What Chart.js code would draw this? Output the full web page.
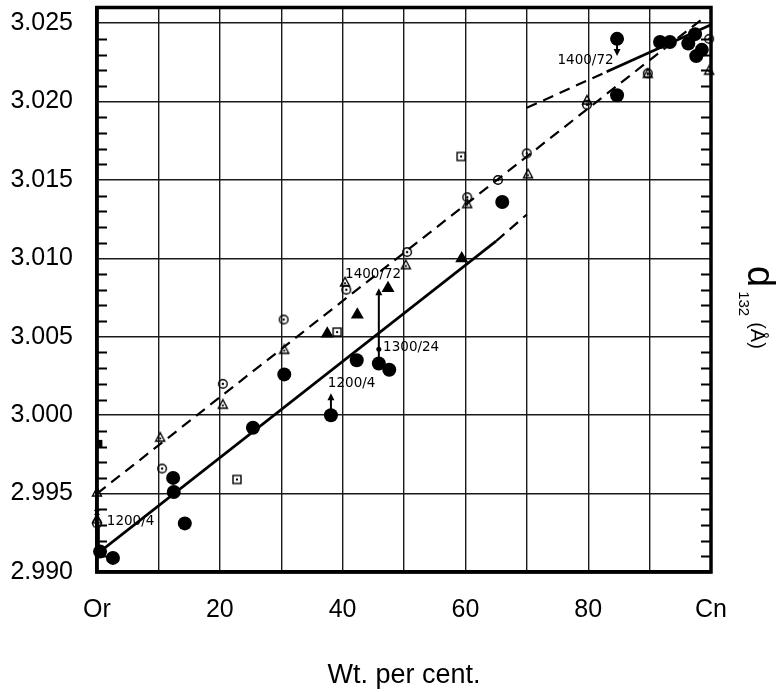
<!DOCTYPE html>
<html>
<head>
<meta charset="utf-8">
<script src="https://cdn.jsdelivr.net/npm/chart.js@4.4.0/dist/chart.umd.min.js"></script>
<style>
  html, body { margin: 0; padding: 0; background: #fff; }
  #wrap { width: 778px; height: 692px; }
</style>
</head>
<body>
<div id="wrap"><canvas id="chart" width="778" height="692"></canvas></div>
<script>
// x = Wt. per cent. Cn (Or = 0, Cn = 100), y = d132 in Å
const xTickLabels = ['Or', '', '20', '', '40', '', '60', '', '80', '', 'Cn'];

// filled circles
const filledX = [0.5, 2.6, 12.4, 12.5, 14.3, 25.4, 30.5, 38.1, 42.3, 45.9, 47.6, 66.0, 84.7, 84.7, 91.7, 93.3, 96.3, 97.4, 97.6, 98.5];
const filledY = [2.9913, 2.9909, 2.9960, 2.9951, 2.9931, 2.9992, 3.0026, 3.0000, 3.0035, 3.0033, 3.0029, 3.0136, 3.0204, 3.0240, 3.0238, 3.0238, 3.0237, 3.0243, 3.0229, 3.0233];

// open circles with centre dot
const circX = [0, 10.6, 20.5, 30.4, 40.6, 50.5, 60.3, 65.3, 70.0, 79.8, 89.7, 99.7];
const circY = [2.9931, 2.9966, 3.0020, 3.0061, 3.0080, 3.0104, 3.0139, 3.0150, 3.0167, 3.0198, 3.0218, 3.0240];

// open triangles
const triX = [0, 0, 10.3, 20.5, 30.5, 40.4, 50.3, 60.3, 70.2, 79.8, 89.7, 99.7];
const triY = [2.9951, 2.9934, 2.9986, 3.0007, 3.0042, 3.0085, 3.0096, 3.0135, 3.0154, 3.0201, 3.0218, 3.0220];

// open squares with centre dot
const sqX = [22.8, 39.1, 59.3];
const sqY = [2.9959, 3.0053, 3.0165];

// filled triangles
const ftriX = [37.5, 42.4, 47.4, 59.4];
const ftriY = [3.0052, 3.0064, 3.0081, 3.0100];

// single odd marks on the Or axis
const fsqX = [0.3];
const fsqY = [2.9982];
const crossX = [0];
const crossY = [2.9938];
const smallDotX = [45.9];
const smallDotY = [3.0042];

// fitted lines
const upperDashX = [0, 99];
const upperDashY = [2.9950, 3.0254];
const lowerSolidX = [0.5, 65];
const lowerSolidY = [2.9913, 3.0111];
const lowerDashX = [65, 70];
const lowerDashY = [3.0111, 3.0128];
const topDashX = [70, 83];
const topDashY = [3.0196, 3.0219];
const topSolidX = [83, 100];
const topSolidY = [3.0219, 3.0249];

// heat treatment arrows and labels
const arrowX = [0.3, 38.1, 45.9, 84.7];
const arrowFrom = [2.9913, 3.0000, 3.0033, 3.0240];
const arrowTo = [2.9929, 3.0014, 3.0081, 3.0229];
const arrowHead = [false, true, true, true];
const noteText = ['1200/4', '1200/4', '1300/24', '1400/72', '1400/72'];
const noteX = [1.6, 37.6, 46.6, 40.4, 75.0];
const noteY = [2.9932, 3.0020, 3.0043, 3.0090, 3.0226];

function pts(xs, ys) {
    return xs.map((x, i) => ({ x: x, y: ys[i] }));
}

function makeMarker(kind) {
    const c = document.createElement('canvas');
    c.width = 12; c.height = 12;
    const g = c.getContext('2d');
    g.strokeStyle = '#000';
    g.fillStyle = '#000';
    g.lineWidth = 1.4;
    if (kind === 'circ') {
        g.beginPath(); g.arc(6, 6, 4.3, 0, Math.PI * 2); g.stroke();
        g.beginPath(); g.arc(6, 6, 1.2, 0, Math.PI * 2); g.fill();
    } else if (kind === 'sq') {
        g.strokeRect(2, 2, 8, 8);
        g.fillRect(5, 5, 2, 2);
    } else {
        g.beginPath(); g.moveTo(6, 1.5); g.lineTo(10.5, 10); g.lineTo(1.5, 10); g.closePath(); g.stroke();
        g.beginPath(); g.arc(6, 7.3, 1.1, 0, Math.PI * 2); g.fill();
    }
    return c;
}

const circImg = makeMarker('circ');
const sqImg = makeMarker('sq');
const triImg = makeMarker('tri');

function lineSet(xs, ys, dashed, width) {
    return {
        type: 'line',
        data: pts(xs, ys),
        borderColor: '#000',
        borderWidth: width,
        borderDash: dashed ? [11, 7] : [],
        pointRadius: 0,
        fill: false,
        tension: 0
    };
}

// cadre et petites graduations sous les points, flèches et textes au-dessus
const extras = {
    id: 'extras',
    beforeDatasetsDraw(chart) {
        const ctx = chart.ctx;
        const ys = chart.scales.y;
        const area = chart.chartArea;
        ctx.save();
        ctx.strokeStyle = '#000';

        // minor ticks every 0.001 on both sides
        ctx.lineWidth = 2;
        for (let k = 1; k < 36; k++) {
            if (k % 5 === 0) continue;
            const py = Math.round(ys.getPixelForValue(2.990 + k * 0.001)) + 0.5;
            ctx.beginPath();
            ctx.moveTo(area.left, py); ctx.lineTo(area.left + 10, py);
            ctx.moveTo(area.right, py); ctx.lineTo(area.right - 10, py);
            ctx.stroke();
        }

        // frame
        ctx.lineWidth = 3.5;
        ctx.strokeRect(area.left, area.top, area.right - area.left, area.bottom - area.top);
        ctx.restore();
    },
    afterDatasetsDraw(chart) {
        const ctx = chart.ctx;
        const xs = chart.scales.x;
        const ys = chart.scales.y;
        ctx.save();
        ctx.strokeStyle = '#000';
        ctx.fillStyle = '#000';

        // arrows
        ctx.lineWidth = 2;
        arrowX.forEach((x, i) => {
            const px = xs.getPixelForValue(x);
            const y0 = ys.getPixelForValue(arrowFrom[i]);
            const y1 = ys.getPixelForValue(arrowTo[i]);
            const dir = y1 < y0 ? 1 : -1;
            ctx.beginPath();
            ctx.moveTo(px, y0);
            ctx.lineTo(px, arrowHead[i] ? y1 + dir * 4 : y1);
            ctx.stroke();
            if (arrowHead[i]) {
                ctx.beginPath();
                ctx.moveTo(px, y1);
                ctx.lineTo(px - 3.5, y1 + dir * 7);
                ctx.lineTo(px + 3.5, y1 + dir * 7);
                ctx.closePath();
                ctx.fill();
            }
        });

        // notes
        ctx.font = '13.5px "DejaVu Sans"';
        ctx.textAlign = 'left';
        ctx.textBaseline = 'middle';
        noteText.forEach((t, i) => {
            ctx.fillText(t, xs.getPixelForValue(noteX[i]), ys.getPixelForValue(noteY[i]));
        });

        // right-hand axis title, d132 (Å), reading downwards
        ctx.translate(748, 266);
        ctx.rotate(Math.PI / 2);
        ctx.textBaseline = 'alphabetic';
        ctx.font = '38px "Liberation Sans"';
        ctx.fillText('d', 0, 0);
        let w = ctx.measureText('d').width + 4;
        ctx.font = '15px "Liberation Sans"';
        ctx.fillText('132', w, 9);
        w += ctx.measureText('132').width + 6;
        ctx.font = '20px "Liberation Sans"';
        ctx.fillText('(Å)', w, -3);
        ctx.restore();
    }
};

const ctx = document.getElementById('chart').getContext('2d');
const chart = new Chart(ctx, {
    type: 'scatter',
    data: {
        datasets: [
            { data: pts(smallDotX, smallDotY), pointStyle: 'circle', pointRadius: 2.5, backgroundColor: '#000', borderWidth: 0 },
            { data: pts(filledX, filledY), pointStyle: 'circle', pointRadius: 7, backgroundColor: '#000', borderColor: '#000', borderWidth: 0 },
            { data: pts(ftriX, ftriY), pointStyle: 'triangle', pointRadius: 7.5, backgroundColor: '#000', borderColor: '#000', borderWidth: 0 },
            { data: pts(circX, circY), pointStyle: circImg },
            { data: pts(triX, triY), pointStyle: triImg },
            { data: pts(sqX, sqY), pointStyle: sqImg },
            { data: pts(fsqX, fsqY), pointStyle: 'rect', pointRadius: 5, backgroundColor: '#000', borderWidth: 0 },
            { data: pts(crossX, crossY), pointStyle: 'crossRot', pointRadius: 3.5, borderColor: '#000', borderWidth: 1.3 },
            lineSet(upperDashX, upperDashY, true, 2.2),
            lineSet(lowerSolidX, lowerSolidY, false, 2.6),
            lineSet(lowerDashX, lowerDashY, true, 2.2),
            lineSet(topDashX, topDashY, true, 2.2),
            lineSet(topSolidX, topSolidY, false, 2.6)
        ]
    },
    options: {
        responsive: false,
        animation: false,
        events: [],
        clip: false,
        layout: { padding: { left: 0, right: 67, top: 5, bottom: 0 } },
        plugins: {
            legend: { display: false },
            tooltip: { enabled: false }
        },
        scales: {
            x: {
                type: 'linear',
                min: 0,
                max: 100,
                afterFit(scale) { scale.height = 120; },
                grid: { color: '#1a1a1a', lineWidth: 1.4, drawTicks: false },
                border: { display: true, color: '#000', width: 3.5 },
                ticks: {
                    stepSize: 10,
                    autoSkip: false,
                    maxRotation: 0,
                    padding: 23,
                    color: '#000',
                    font: { family: '"Liberation Sans"', size: 25 },
                    callback: v => xTickLabels[Math.round(v / 10)]
                },
                title: {
                    display: true,
                    text: 'Wt. per cent.',
                    color: '#000',
                    font: { family: '"Liberation Sans"', size: 27 },
                    padding: { top: 0, bottom: 0 }
                }
            },
            y: {
                type: 'linear',
                min: 2.990,
                max: 3.026,
                afterFit(scale) { scale.width = 97; scale.paddingTop = 0; scale.paddingBottom = 0; },
                grid: { color: '#1a1a1a', lineWidth: 1.4, drawTicks: false },
                border: { display: true, color: '#000', width: 3.5 },
                ticks: {
                    stepSize: 0.005,
                    includeBounds: false,
                    padding: 24,
                    color: '#000',
                    font: { family: '"Liberation Sans"', size: 25 },
                    callback: v => v.toFixed(3)
                }
            }
        }
    },
    plugins: [extras]
});

// le haut du cadre doit être à y = 5
const shift = chart.chartArea.top - 5;
if (Math.abs(shift) > 0.5) {
    chart.options.layout.padding.top = 5 - shift;
    chart.update();
}
</script>
</body>
</html>
